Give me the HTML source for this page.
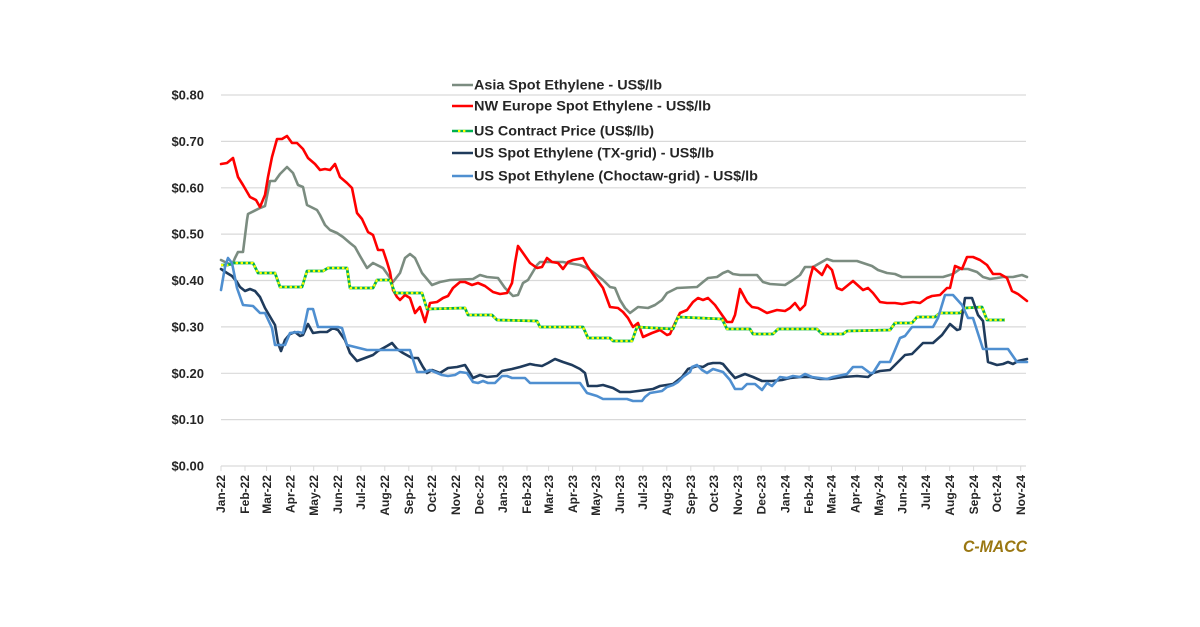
<!DOCTYPE html>
<html><head><meta charset="utf-8"><style>
html,body{margin:0;padding:0;background:#fff;}
svg{display:block;}
text{font-family:"Liberation Sans",sans-serif;font-weight:bold;fill:#262626;}
</style></head><body>
<svg width="1200" height="627" viewBox="0 0 1200 627" xmlns="http://www.w3.org/2000/svg">
<rect width="1200" height="627" fill="#fff"/>
<g stroke="#d9d9d9" stroke-width="1.2">
<line x1="221" y1="95" x2="1026" y2="95"/>
<line x1="221" y1="141.4" x2="1026" y2="141.4"/>
<line x1="221" y1="187.8" x2="1026" y2="187.8"/>
<line x1="221" y1="234.1" x2="1026" y2="234.1"/>
<line x1="221" y1="280.5" x2="1026" y2="280.5"/>
<line x1="221" y1="326.9" x2="1026" y2="326.9"/>
<line x1="221" y1="373.3" x2="1026" y2="373.3"/>
<line x1="221" y1="419.6" x2="1026" y2="419.6"/>
<line x1="221" y1="466" x2="1026" y2="466"/>
</g>
<g font-size="13" text-anchor="end">
<text x="204" y="99.5">$0.80</text>
<text x="204" y="145.9">$0.70</text>
<text x="204" y="192.3">$0.60</text>
<text x="204" y="238.6">$0.50</text>
<text x="204" y="285">$0.40</text>
<text x="204" y="331.4">$0.30</text>
<text x="204" y="377.8">$0.20</text>
<text x="204" y="424.1">$0.10</text>
<text x="204" y="470.5">$0.00</text>
</g>
<g stroke="#d9d9d9" stroke-width="1">
<line x1="221" y1="466" x2="221" y2="471"/><line x1="245" y1="466" x2="245" y2="471"/><line x1="266.6" y1="466" x2="266.6" y2="471"/><line x1="290.5" y1="466" x2="290.5" y2="471"/><line x1="313.7" y1="466" x2="313.7" y2="471"/><line x1="337.7" y1="466" x2="337.7" y2="471"/><line x1="360.9" y1="466" x2="360.9" y2="471"/><line x1="384.8" y1="466" x2="384.8" y2="471"/><line x1="408.8" y1="466" x2="408.8" y2="471"/><line x1="431.9" y1="466" x2="431.9" y2="471"/><line x1="455.9" y1="466" x2="455.9" y2="471"/><line x1="479.1" y1="466" x2="479.1" y2="471"/><line x1="503" y1="466" x2="503" y2="471"/><line x1="527" y1="466" x2="527" y2="471"/><line x1="548.6" y1="466" x2="548.6" y2="471"/><line x1="572.6" y1="466" x2="572.6" y2="471"/><line x1="595.8" y1="466" x2="595.8" y2="471"/><line x1="619.7" y1="466" x2="619.7" y2="471"/><line x1="642.9" y1="466" x2="642.9" y2="471"/><line x1="666.8" y1="466" x2="666.8" y2="471"/><line x1="690.8" y1="466" x2="690.8" y2="471"/><line x1="714" y1="466" x2="714" y2="471"/><line x1="737.9" y1="466" x2="737.9" y2="471"/><line x1="761.1" y1="466" x2="761.1" y2="471"/><line x1="785.1" y1="466" x2="785.1" y2="471"/><line x1="809" y1="466" x2="809" y2="471"/><line x1="831.4" y1="466" x2="831.4" y2="471"/><line x1="855.4" y1="466" x2="855.4" y2="471"/><line x1="878.6" y1="466" x2="878.6" y2="471"/><line x1="902.5" y1="466" x2="902.5" y2="471"/><line x1="925.7" y1="466" x2="925.7" y2="471"/><line x1="949.7" y1="466" x2="949.7" y2="471"/><line x1="973.6" y1="466" x2="973.6" y2="471"/><line x1="996.8" y1="466" x2="996.8" y2="471"/><line x1="1020.7" y1="466" x2="1020.7" y2="471"/>
</g>
<g font-size="12" text-anchor="end">
<text transform="translate(221,475) rotate(-90)" dy="0.35em">Jan-22</text>
<text transform="translate(245,475) rotate(-90)" dy="0.35em">Feb-22</text>
<text transform="translate(266.6,475) rotate(-90)" dy="0.35em">Mar-22</text>
<text transform="translate(290.5,475) rotate(-90)" dy="0.35em">Apr-22</text>
<text transform="translate(313.7,475) rotate(-90)" dy="0.35em">May-22</text>
<text transform="translate(337.7,475) rotate(-90)" dy="0.35em">Jun-22</text>
<text transform="translate(360.9,475) rotate(-90)" dy="0.35em">Jul-22</text>
<text transform="translate(384.8,475) rotate(-90)" dy="0.35em">Aug-22</text>
<text transform="translate(408.8,475) rotate(-90)" dy="0.35em">Sep-22</text>
<text transform="translate(431.9,475) rotate(-90)" dy="0.35em">Oct-22</text>
<text transform="translate(455.9,475) rotate(-90)" dy="0.35em">Nov-22</text>
<text transform="translate(479.1,475) rotate(-90)" dy="0.35em">Dec-22</text>
<text transform="translate(503,475) rotate(-90)" dy="0.35em">Jan-23</text>
<text transform="translate(527,475) rotate(-90)" dy="0.35em">Feb-23</text>
<text transform="translate(548.6,475) rotate(-90)" dy="0.35em">Mar-23</text>
<text transform="translate(572.6,475) rotate(-90)" dy="0.35em">Apr-23</text>
<text transform="translate(595.8,475) rotate(-90)" dy="0.35em">May-23</text>
<text transform="translate(619.7,475) rotate(-90)" dy="0.35em">Jun-23</text>
<text transform="translate(642.9,475) rotate(-90)" dy="0.35em">Jul-23</text>
<text transform="translate(666.8,475) rotate(-90)" dy="0.35em">Aug-23</text>
<text transform="translate(690.8,475) rotate(-90)" dy="0.35em">Sep-23</text>
<text transform="translate(714,475) rotate(-90)" dy="0.35em">Oct-23</text>
<text transform="translate(737.9,475) rotate(-90)" dy="0.35em">Nov-23</text>
<text transform="translate(761.1,475) rotate(-90)" dy="0.35em">Dec-23</text>
<text transform="translate(785.1,475) rotate(-90)" dy="0.35em">Jan-24</text>
<text transform="translate(809,475) rotate(-90)" dy="0.35em">Feb-24</text>
<text transform="translate(831.4,475) rotate(-90)" dy="0.35em">Mar-24</text>
<text transform="translate(855.4,475) rotate(-90)" dy="0.35em">Apr-24</text>
<text transform="translate(878.6,475) rotate(-90)" dy="0.35em">May-24</text>
<text transform="translate(902.5,475) rotate(-90)" dy="0.35em">Jun-24</text>
<text transform="translate(925.7,475) rotate(-90)" dy="0.35em">Jul-24</text>
<text transform="translate(949.7,475) rotate(-90)" dy="0.35em">Aug-24</text>
<text transform="translate(973.6,475) rotate(-90)" dy="0.35em">Sep-24</text>
<text transform="translate(996.8,475) rotate(-90)" dy="0.35em">Oct-24</text>
<text transform="translate(1020.7,475) rotate(-90)" dy="0.35em">Nov-24</text>
</g>
<g fill="none" stroke-width="2.6" stroke-linejoin="round" stroke-linecap="round">
<polyline stroke="#7b8c80" points="221,260 227,263 232,265 235,258 238,252 243,252 247,220 248,214 260,208 265,206 270,181 275,181 280,174 287,167 293,173 298,185 303,187 307,205 317,210 320,215 325,225 330,230 337,233 343,237 350,243 355,247 360,256 367,268 373,263 383,268 388,275 393,282 400,273 405,258 410,254 415,258 422,273 432,285 440,282 450,280 473,279 480,275 487,277 498,278 505,288 513,296 518,295 523,283 528,280 537,265 540,262 563,262 568,263 580,265 587,268 593,272 603,280 610,287 615,288 620,300 625,308 630,313 638,307 648,308 655,305 662,300 667,293 677,288 697,287 703,282 708,278 717,277 723,273 728,271 733,274 740,275 757,275 763,282 770,284 785,285 793,280 800,275 805,267 813,267 820,263 827,259 833,261 857,261 863,263 872,266 878,270 887,273 895,274 902,277 943,277 953,274 960,269 968,269 977,272 983,277 990,279 997,278 1003,277 1013,277 1022,275 1027,277"/>
<polyline stroke="#ff0000" points="221,164 227,163 233,158 238,177 243,185 250,197 256,200 260,207 265,195 268,177 272,157 277,139 282,139 287,136 292,143 297,143 303,149 308,158 315,164 320,170 325,169 330,170 335,164 340,177 347,183 352,188 357,213 362,219 368,232 373,235 378,250 383,250 387,262 390,272 393,290 397,297 400,300 405,295 410,298 415,313 420,307 425,322 430,303 437,302 443,298 448,296 453,288 460,282 465,282 472,285 478,283 485,286 493,292 500,294 507,293 512,283 515,263 518,246 523,253 530,263 537,268 542,267 547,258 552,262 558,263 563,269 568,262 573,260 583,258 588,267 595,277 603,288 610,307 618,308 623,312 628,318 633,327 638,323 643,337 652,333 660,330 667,335 670,334 675,323 680,313 687,310 693,302 698,298 703,300 708,298 715,305 722,315 727,322 732,322 735,315 740,289 747,302 752,307 758,308 767,313 777,310 785,311 790,308 795,303 800,310 805,305 810,278 813,267 822,275 827,265 832,270 837,288 842,290 853,281 863,290 868,288 873,293 880,302 887,303 895,303 902,304 913,302 920,303 927,298 932,296 940,295 947,288 950,288 955,266 962,269 967,257 973,257 980,260 987,265 993,274 1000,274 1007,278 1012,291 1018,294 1027,301"/>
<polyline stroke="#00b050" stroke-width="2.8" stroke-linecap="butt" points="221,265 228,265 233,263 253,263 258,273 275,273 280,287 302,287 307,271 323,271 328,268 347,268 350,288 373,288 377,280 390,280 395,293 422,293 427,309 465,308 468,315 492,315 497,320 537,321 540,327 583,327 588,338 610,338 613,341 632,341 637,327 673,329 678,317 722,319 727,329 750,329 753,334 773,334 778,329 817,329 822,334 843,334 847,331 890,330 895,323 912,323 917,317 935,317 940,313 960,313 965,308 982,307 987,320 1005,320"/>
<polyline stroke="#ffff00" stroke-width="2.2" stroke-linecap="butt" stroke-dasharray="2.4 2.6" points="221,265 228,265 233,263 253,263 258,273 275,273 280,287 302,287 307,271 323,271 328,268 347,268 350,288 373,288 377,280 390,280 395,293 422,293 427,309 465,308 468,315 492,315 497,320 537,321 540,327 583,327 588,338 610,338 613,341 632,341 637,327 673,329 678,317 722,319 727,329 750,329 753,334 773,334 778,329 817,329 822,334 843,334 847,331 890,330 895,323 912,323 917,317 935,317 940,313 960,313 965,308 982,307 987,320 1005,320"/>
<polyline stroke="#1f3b5c" points="221,269 227,273 232,276 237,282 240,287 245,291 250,289 255,291 260,297 265,308 272,320 275,325 278,343 281,351 285,340 290,334 295,332 300,336 303,335 308,324 313,333 320,332 327,332 333,328 338,330 345,340 350,353 357,361 365,358 373,355 378,351 387,346 392,343 397,349 403,353 412,358 418,358 423,367 427,373 432,370 440,373 448,368 457,367 465,365 470,373 473,378 480,375 487,377 497,376 502,371 512,369 520,367 530,364 535,365 542,366 548,363 555,359 563,362 572,365 580,369 585,373 588,386 597,386 603,385 613,388 620,392 630,392 638,391 653,389 660,386 673,384 682,377 688,369 697,366 703,367 708,364 713,363 720,363 723,364 728,370 735,378 745,374 753,377 762,381 772,381 782,380 790,378 800,377 810,377 820,379 830,379 843,377 857,376 868,377 873,373 880,371 890,370 895,365 902,358 905,355 912,354 918,348 923,343 933,343 942,335 950,324 957,330 960,329 965,298 972,298 978,315 983,321 988,362 997,365 1003,364 1008,362 1013,364 1018,361 1027,359"/>
<polyline stroke="#4f8fd0" points="221,290 225,267 228,258 232,263 237,288 243,305 253,306 260,313 265,313 272,328 275,345 285,345 290,333 298,332 303,333 308,309 313,309 318,327 338,327 342,328 347,345 367,350 410,350 417,372 425,372 430,370 442,375 448,376 455,375 460,372 467,373 473,382 478,383 483,381 488,383 495,383 502,376 507,376 512,378 525,378 530,383 580,383 587,393 597,396 603,399 627,399 633,401 642,401 645,397 650,393 662,391 667,387 673,385 678,382 683,377 690,372 692,367 697,365 702,370 707,373 713,369 723,372 730,380 735,389 742,389 747,384 755,384 762,390 767,383 772,386 780,377 787,378 793,376 800,377 805,374 812,377 827,379 833,377 847,374 853,367 862,367 870,373 873,373 880,362 890,362 900,338 905,336 912,327 933,327 938,318 945,295 953,295 962,305 968,318 973,318 983,349 1008,349 1017,362 1027,362"/>
</g>
<g stroke-width="2.6" fill="none">
<line x1="452" y1="85" x2="473" y2="85" stroke="#7b8c80"/>
<line x1="452" y1="106" x2="473" y2="106" stroke="#ff0000"/>
<line x1="452" y1="131" x2="473" y2="131" stroke="#00b050"/>
<line x1="458" y1="131" x2="466" y2="131" stroke="#ffff00" stroke-width="2.2" stroke-dasharray="2.4 2.6"/>
<line x1="452" y1="153" x2="473" y2="153" stroke="#1f3b5c"/>
<line x1="452" y1="176" x2="473" y2="176" stroke="#4f8fd0"/>
</g>
<g font-size="13.5">
<text x="474" y="89.7" textLength="188" lengthAdjust="spacingAndGlyphs">Asia Spot Ethylene - US$/lb</text>
<text x="474" y="110.7" textLength="237" lengthAdjust="spacingAndGlyphs">NW Europe Spot Ethylene - US$/lb</text>
<text x="474" y="135.7" textLength="180" lengthAdjust="spacingAndGlyphs">US Contract Price (US$/lb)</text>
<text x="474" y="157.7" textLength="240" lengthAdjust="spacingAndGlyphs">US Spot Ethylene (TX-grid) - US$/lb</text>
<text x="474" y="180.7" textLength="284" lengthAdjust="spacingAndGlyphs">US Spot Ethylene (Choctaw-grid) - US$/lb</text>
</g>
<text x="1027" y="552" font-size="17" font-style="italic" text-anchor="end" style="fill:#9a7712" textLength="64" lengthAdjust="spacingAndGlyphs">C-MACC</text>
</svg>
</body></html>
